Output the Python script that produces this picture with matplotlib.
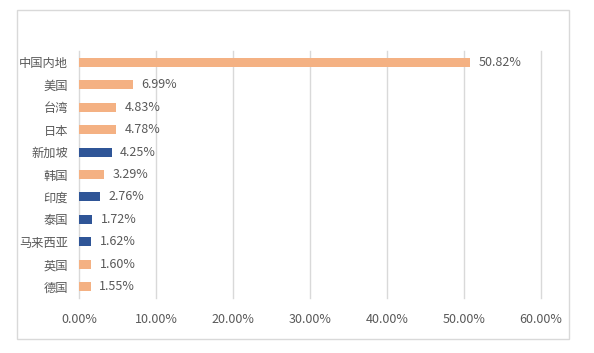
import matplotlib.pyplot as plt
from matplotlib.patches import Rectangle
from matplotlib.ticker import FuncFormatter

plt.rcParams['font.family'] = ['Noto Sans CJK SC', 'DejaVu Sans']

# Data
regions = ['中国内地', '美国', '台湾', '日本', '新加坡', '韩国', '印度', '泰国', '马来西亚', '英国', '德国']
shares = [50.82, 6.99, 4.83, 4.78, 4.25, 3.29, 2.76, 1.72, 1.62, 1.60, 1.55]
highlight = ['新加坡', '印度', '泰国', '马来西亚']

orange = '#F4B183'
blue = '#2F5597'
text_color = '#595959'
colors = [blue if r in highlight else orange for r in regions]

fig = plt.figure(figsize=(5.94, 3.53), dpi=100)
ax = fig.add_axes([79 / 594, 1 - 298 / 353, (541 - 79) / 594, (298 - 51) / 353])

# outer chart border
fig.patches.append(Rectangle((17 / 594, 1 - 339 / 353), (569 - 17) / 594, (339 - 10) / 353,
                             transform=fig.transFigure, fill=False, edgecolor='#D9D9D9', linewidth=1))

y = range(len(regions))
ax.barh(y, shares, height=0.4, color=colors, zorder=3)
for yi, v in zip(y, shares):
    ax.text(v + 1.1, yi, f'{v:.2f}%', va='center', ha='left', fontsize=9, color=text_color)

ax.set_ylim(len(regions) - 0.5, -0.5)
ax.set_yticks(list(y))
ax.set_yticklabels(regions, fontsize=8.8, color=text_color)
ax.set_xlim(0, 60)
ax.set_xticks(range(0, 61, 10))
ax.xaxis.set_major_formatter(FuncFormatter(lambda x, p: f'{x:.2f}%'))
ax.tick_params(axis='x', labelsize=9, labelcolor=text_color, length=0, pad=11)
ax.tick_params(axis='y', length=0, pad=8)
# gridlines drawn by hand so the one at 60% is not clipped
for gx in range(0, 61, 10):
    ax.axvline(gx, color='#D9D9D9', linewidth=1, zorder=0, clip_on=False)
for s in ax.spines.values():
    s.set_visible(False)

fig.savefig('out.png', dpi=100)
